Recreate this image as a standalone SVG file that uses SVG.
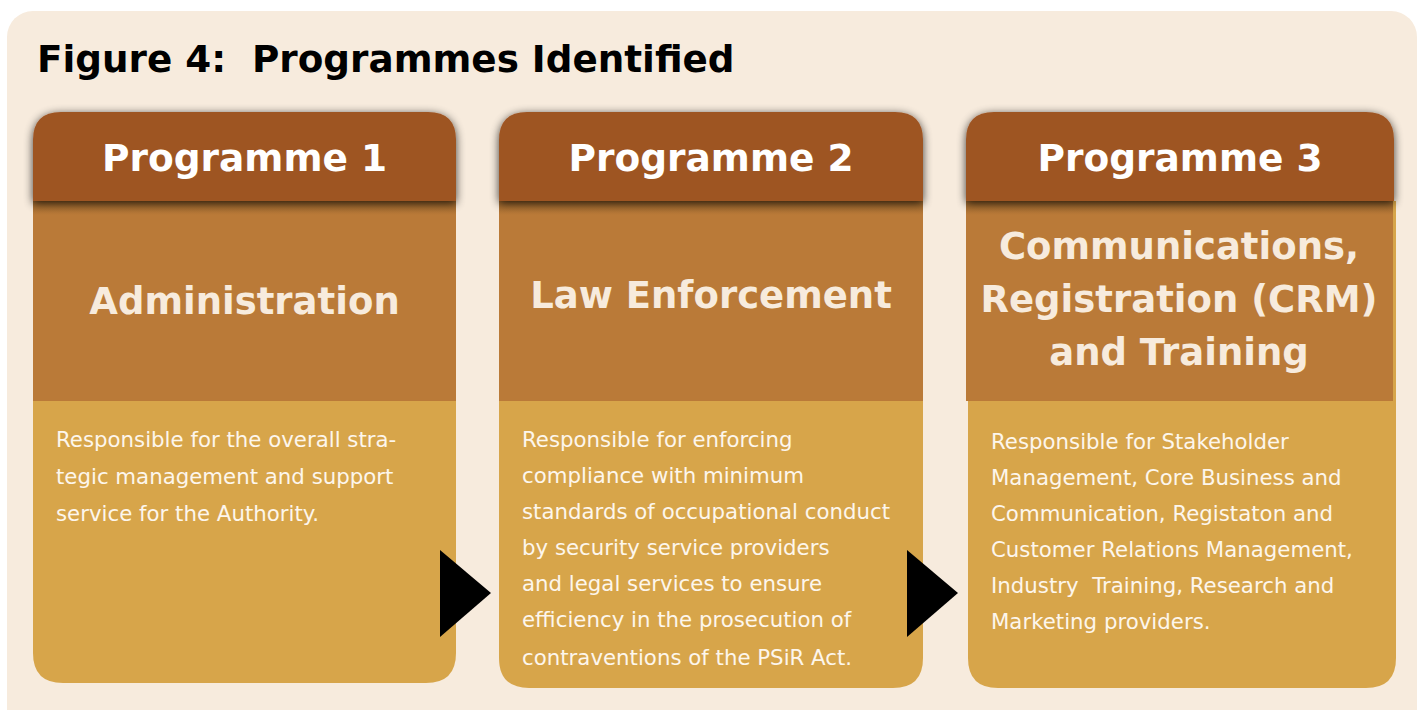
<svg xmlns="http://www.w3.org/2000/svg" width="1421" height="710" viewBox="0 0 1421 710">
  <style>
    .title { font-family: "DejaVu Sans", Verdana, sans-serif; font-weight: bold; font-size: 37.3px; fill: #000000; }
    .hdr { fill: #9E5424; }
    .hdrtxt { font-family: "DejaVu Sans", Verdana, sans-serif; font-weight: bold; font-size: 37.5px; fill: #FFFFFF; text-anchor: middle; }
    .mid { fill: #BA7A38; }
    .midtxt { font-family: "DejaVu Sans", Verdana, sans-serif; font-weight: bold; font-size: 37px; fill: #F7EBDD; text-anchor: middle; }
    .body { fill: #D7A54A; }
    .bodytxt { font-family: "DejaVu Sans", Verdana, sans-serif; font-size: 21.3px; fill: #FDF6EC; }
    .arrow { fill: #000000; }
  </style>
  <defs>
    <filter id="shadow" x="-10%" y="-20%" width="120%" height="150%">
      <feGaussianBlur in="SourceAlpha" stdDeviation="5"/>
      <feOffset dx="0" dy="2" result="b"/>
      <feComponentTransfer><feFuncA type="linear" slope="0.75"/></feComponentTransfer>
      <feMerge><feMergeNode/><feMergeNode in="SourceGraphic"/></feMerge>
    </filter>
    <linearGradient id="midShade" x1="0" y1="0" x2="0" y2="1">
      <stop offset="0" stop-color="#6E4A1E" stop-opacity="0.55"/>
      <stop offset="1" stop-color="#6E4A1E" stop-opacity="0"/>
    </linearGradient>
  </defs>

  <rect x="7" y="11" width="1410" height="740" rx="26" ry="26" fill="#F7EBDD"/>
  <text class="title" x="37" y="72" xml:space="preserve">Figure 4:  Programmes Identified</text>

  <g id="programme1">
    <path class="body" d="M33 201 H456 V653 Q456 683 426 683 H63 Q33 683 33 653 Z"/>
    <rect class="mid" x="33" y="201" width="423" height="200"/>
    <rect x="33" y="201" width="423" height="14" fill="url(#midShade)"/>
    <path class="hdr" filter="url(#shadow)" d="M33 201 V140 Q33 112 61 112 H428 Q456 112 456 140 V201 Z"/>
    <text class="hdrtxt" x="244.5" y="171">Programme 1</text>
    <text class="midtxt" x="244.5" y="314">Administration</text>
    <text class="bodytxt" x="56" y="447">Responsible for the overall stra-</text>
    <text class="bodytxt" x="56" y="484">tegic management and support</text>
    <text class="bodytxt" x="56" y="521">service for the Authority.</text>
  </g>

  <g id="programme2">
    <path class="body" d="M499 201 H923 V658 Q923 688 893 688 H529 Q499 688 499 658 Z"/>
    <rect class="mid" x="499" y="201" width="424" height="200"/>
    <rect x="499" y="201" width="424" height="14" fill="url(#midShade)"/>
    <path class="hdr" filter="url(#shadow)" d="M499 201 V140 Q499 112 527 112 H895 Q923 112 923 140 V201 Z"/>
    <text class="hdrtxt" x="711" y="171">Programme 2</text>
    <text class="midtxt" x="711" y="308">Law Enforcement</text>
    <text class="bodytxt" x="522" y="447">Responsible for enforcing</text>
    <text class="bodytxt" x="522" y="483">compliance with minimum</text>
    <text class="bodytxt" x="522" y="519">standards of occupational conduct</text>
    <text class="bodytxt" x="522" y="555">by security service providers</text>
    <text class="bodytxt" x="522" y="591">and legal services to ensure</text>
    <text class="bodytxt" x="522" y="627">efficiency in the prosecution of</text>
    <text class="bodytxt" x="522" y="665">contraventions of the PSiR Act.</text>
  </g>

  <g id="programme3">
    <path class="body" d="M968 201 H1396 V658 Q1396 688 1366 688 H998 Q968 688 968 658 Z"/>
    <rect class="mid" x="966" y="201" width="427" height="200"/>
    <rect x="966" y="201" width="427" height="14" fill="url(#midShade)"/>
    <path class="hdr" filter="url(#shadow)" d="M966 201 V140 Q966 112 994 112 H1366 Q1394 112 1394 140 V201 Z"/>
    <text class="hdrtxt" x="1180" y="171">Programme 3</text>
    <text class="midtxt" x="1179" y="259">Communications,</text>
    <text class="midtxt" x="1179" y="312">Registration (CRM)</text>
    <text class="midtxt" x="1179" y="365">and Training</text>
    <text class="bodytxt" x="991" y="449">Responsible for Stakeholder</text>
    <text class="bodytxt" x="991" y="485">Management, Core Business and</text>
    <text class="bodytxt" x="991" y="521">Communication, Registaton and</text>
    <text class="bodytxt" x="991" y="557">Customer Relations Management,</text>
    <text class="bodytxt" x="991" y="593" xml:space="preserve">Industry  Training, Research and</text>
    <text class="bodytxt" x="991" y="629">Marketing providers.</text>
  </g>

  <g id="connectors">
    <polygon class="arrow" points="440,550 491,593 440,637"/>
    <polygon class="arrow" points="907,550 958,593 907,637"/>
  </g>
</svg>
